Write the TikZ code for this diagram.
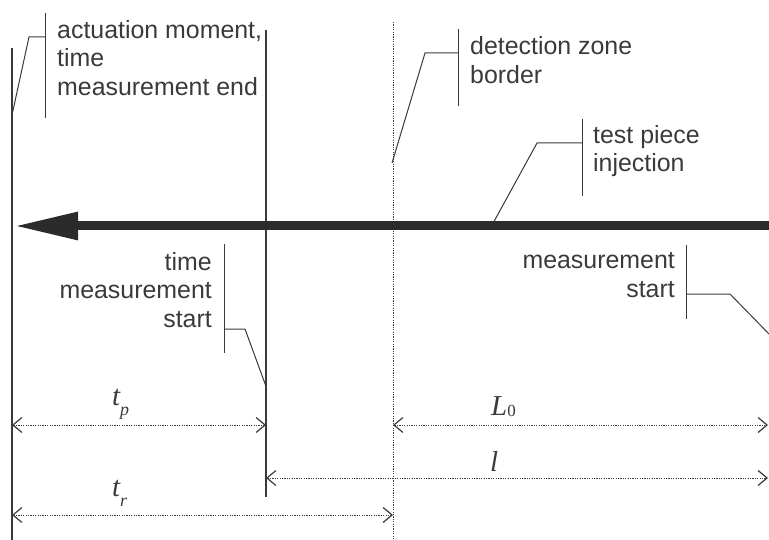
\documentclass[tikz,border=0pt]{standalone}
\usepackage{fontspec}
\setmainfont{Liberation Sans}
\newfontfamily\symfont{Liberation Serif}
\usetikzlibrary{arrows.meta}
\definecolor{ink}{HTML}{3A3A3A}
\definecolor{bar}{HTML}{2B2B2B}
% letter with a lowered subscript, as in the dimension labels
\newcommand{\dimlabel}[2]{{\itshape #1}\raisebox{-10bp}{\fontsize{18}{18}\selectfont\symfont #2}}

\begin{document}
\begin{tikzpicture}[x=1bp, y=-1bp,
  lbl/.style={font=\fontsize{25}{28.5}\selectfont, text=ink, inner sep=0pt},
  sym/.style={font=\fontsize{29}{30}\selectfont\symfont, text=ink, inner sep=0pt, anchor=base west},
  guide/.style={draw=ink, line width=1.3bp},
  lead/.style={draw=ink, line width=1bp},
  zone/.style={draw=ink, line width=1bp, dash pattern=on 1.2bp off 1.2bp},
  dimline/.style={draw=ink, line width=1bp, dash pattern=on 1.2bp off 1.2bp,
                  >={Straight Barb[length=9bp,width=15bp,line width=1.2bp]}, <->}
]
\useasboundingbox (0,0) rectangle (769,540);

% Reference lines
\coordinate (actTop) at (12,48);   \coordinate (actBot) at (12,540);
\coordinate (tmTop)  at (266,30);  \coordinate (tmBot)  at (266,497);
\coordinate (dzTop)  at (393,22);  \coordinate (dzBot)  at (393,540);
\draw[guide] (actTop) -- (actBot);
\draw[guide] (tmTop) -- (tmBot);
\draw[zone]  (dzTop) -- (dzBot);

% Test piece path
\coordinate (pieceIn)  at (771,226);
\coordinate (pieceOut) at (14,226);
\draw[draw=bar, line width=9bp, -{Triangle[length=64bp,width=26bp]}] (pieceIn) -- (pieceOut);

% Labels with their bars and leaders
\node[lbl, anchor=west, align=left] (act) at (57,58) {actuation moment,\\time\\measurement end};
\draw[lead] (45,13) -- (45,118);
\draw[lead] (12,115) -- (29,37) -- (45,37);

\node[lbl, anchor=west, align=left] (dz) at (470,60) {detection zone\\border};
\draw[lead] (458,29) -- (458,106);
\draw[lead] (392,163) -- (425,53) -- (458,53);

\node[lbl, anchor=west, align=left] (inj) at (593,151) {test piece\\injection};
\draw[lead] (582,119) -- (582,196);
\draw[lead] (494,221.5) -- (537,143) -- (582,143);

\node[lbl, anchor=east, align=right] (tms) at (212,290) {time\\measurement\\start};
\draw[lead] (224,244) -- (224,353);
\draw[lead] (224,329) -- (245,329) -- (265.5,385);

\node[lbl, anchor=east, align=right] (ms) at (675,275) {measurement\\start};
\draw[lead] (686,245) -- (686,319);
\draw[lead] (686,294) -- (730,294) -- (769,334);

% Dimensions
\coordinate (tpL) at (12,425);  \coordinate (tpR) at (266,425);
\coordinate (L0L) at (393,425); \coordinate (L0R) at (768,425);
\coordinate (lL)  at (266,478); \coordinate (lR)  at (768,478);
\coordinate (trL) at (12,515);  \coordinate (trR) at (393,515);
\draw[dimline] (tpL) -- (tpR);
\draw[dimline] (L0L) -- (L0R);
\draw[dimline] (lL) -- (lR);
\draw[dimline] (trL) -- (trR);

\node[sym] (tp) at (112,405) {\dimlabel{t}{\itshape p}};
\node[sym] (L0) at (491,415) {{\itshape L}\raisebox{-1bp}{\fontsize{17}{17}\selectfont\symfont 0}};
\node[sym] (ll) at (490,471) {\itshape l};
\node[sym] (tr) at (112,496) {\dimlabel{t}{\itshape r}};
\end{tikzpicture}
\end{document}
